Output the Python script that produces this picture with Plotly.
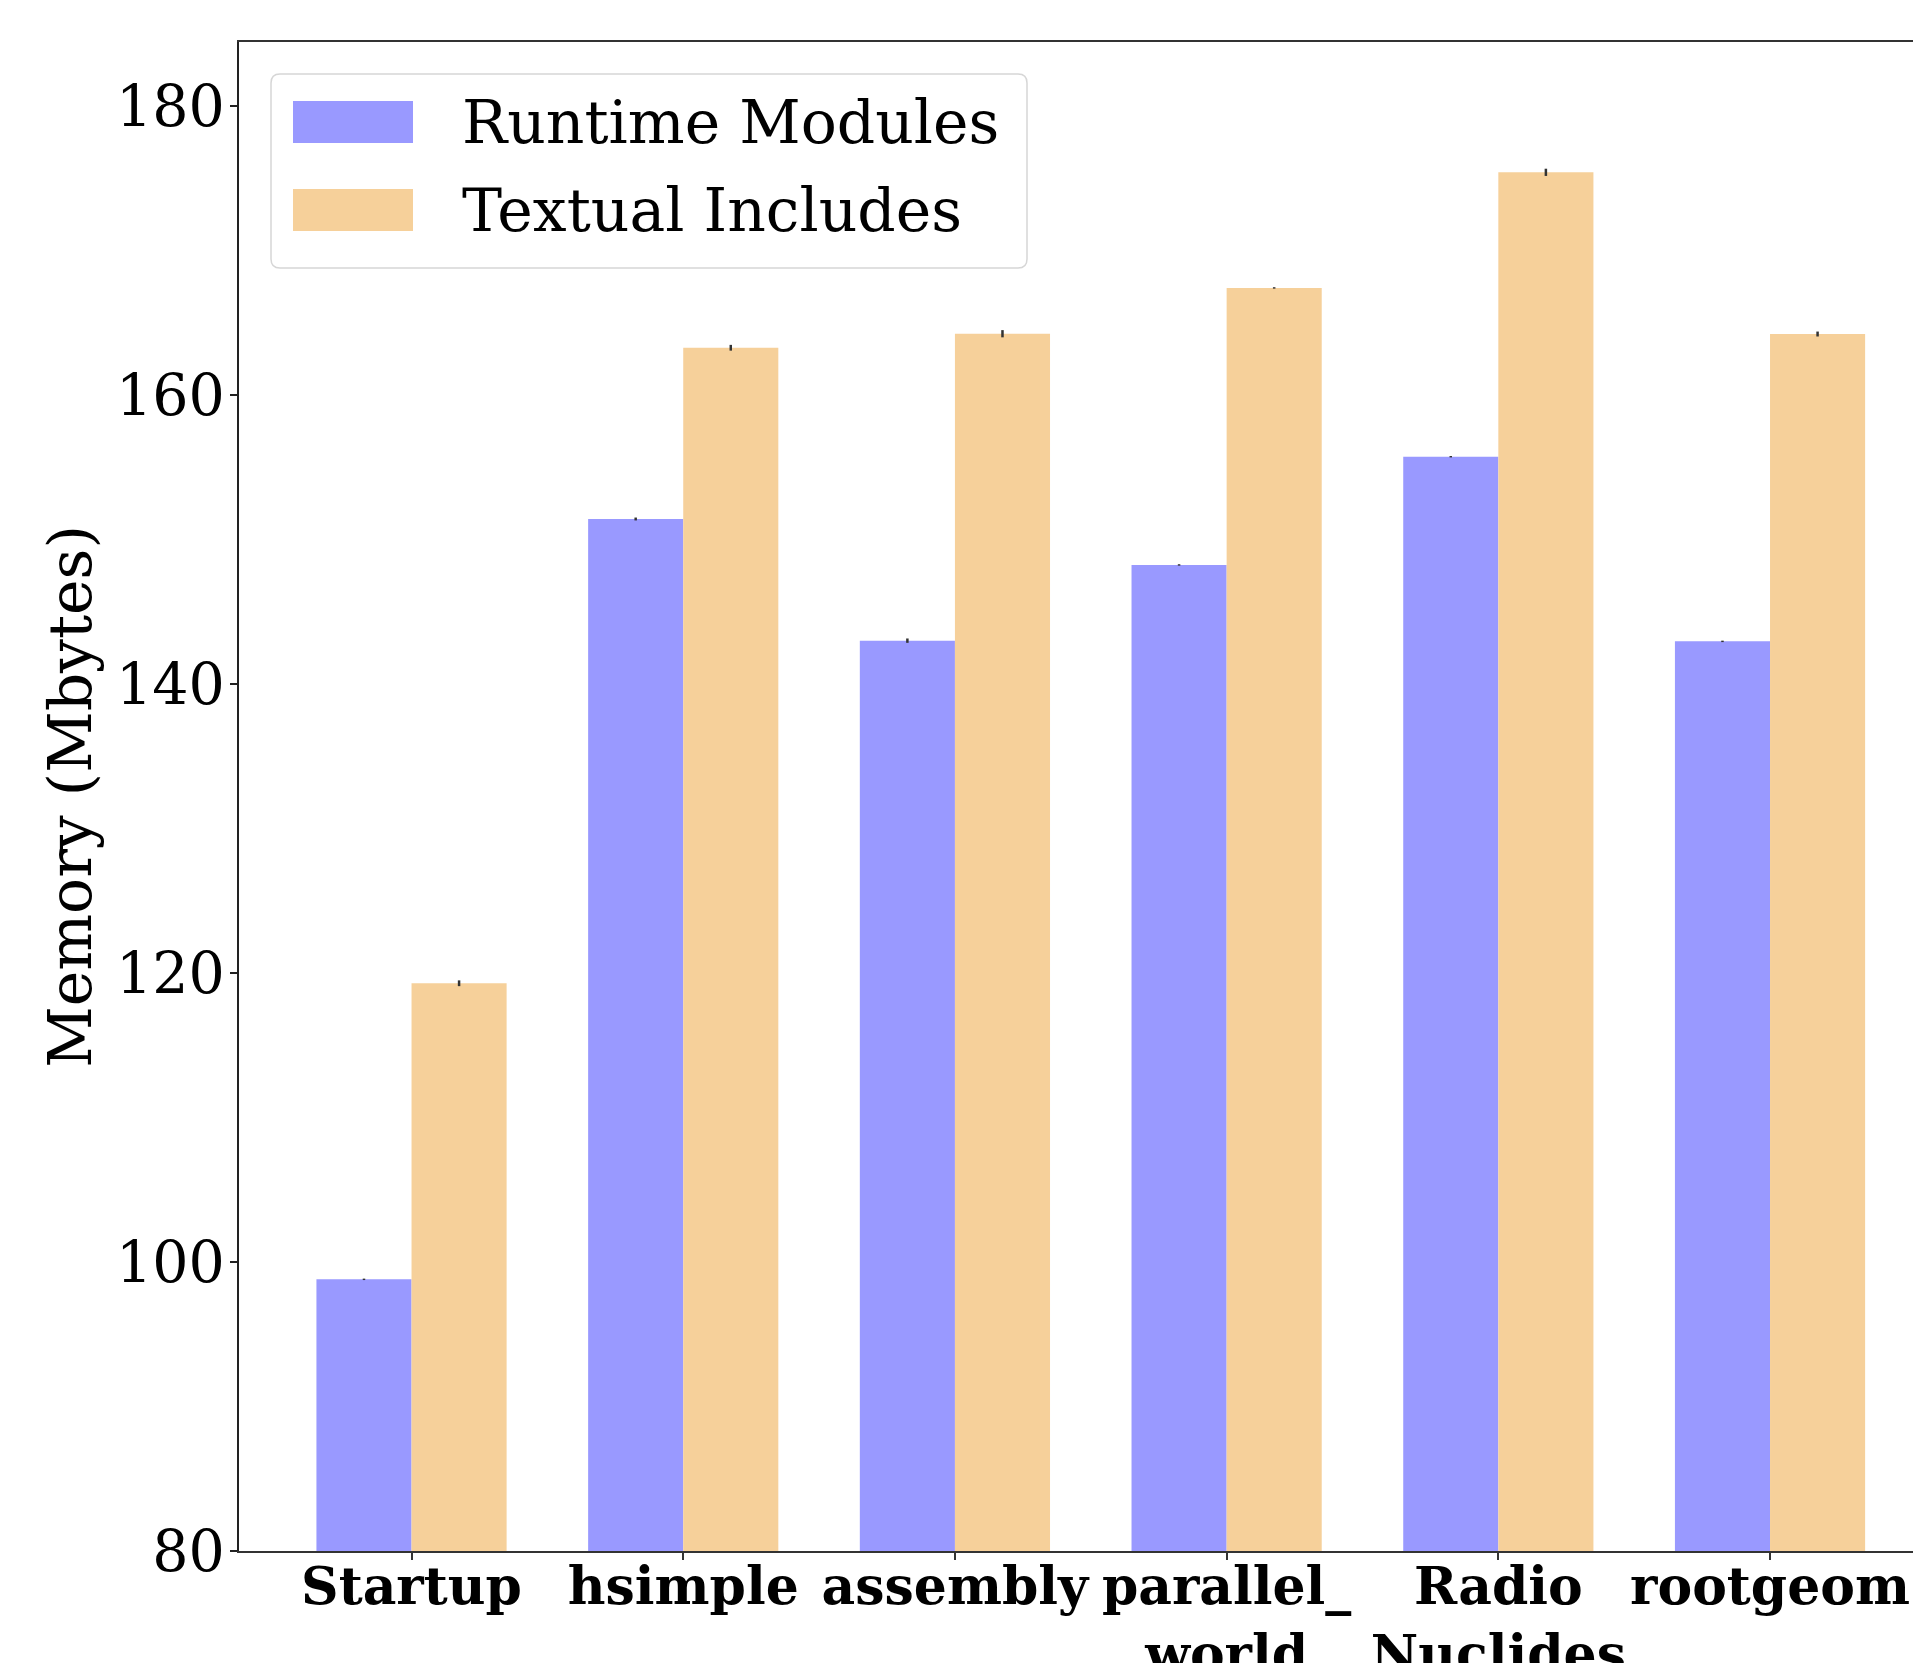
import plotly.graph_objects as go

# ---- data ----
categories = ["Startup", "hsimple", "assembly", "parallel_world", "RadioNuclides", "rootgeom"]
tick_labels = ["Startup", "hsimple", "assembly", "parallel_<br>world", "Radio<br>Nuclides", "rootgeom"]
runtime_modules = [98.80, 151.42, 143.00, 148.24, 155.73, 142.95]
runtime_err = [0.05, 0.10, 0.15, 0.05, 0.05, 0.05]
textual_includes = [119.29, 163.27, 164.24, 167.41, 175.41, 164.22]
textual_err = [0.20, 0.20, 0.25, 0.05, 0.25, 0.17]
series_names = ["Runtime Modules", "Textual Includes"]
y_ticks = [80, 100, 120, 140, 160, 180]

BLUE = "#9999ff"
ORANGE = "#f6d09a"
FONT = "DejaVu Serif"

OFF = 8  # page body margin
W, H = 1921 - OFF, 1663 - OFF
L, R, T = 239 - OFF, 0, 42 - OFF
B = H - (1551 - OFF)
PW, PH = W - L - R, H - T - B

fig = go.Figure()
fig.add_trace(go.Bar(
    x=categories, y=runtime_modules, name=series_names[0],
    marker=dict(color=BLUE, line=dict(width=0)),
    width=0.35, offset=-0.35,
    error_y=dict(type="data", array=runtime_err, color="#333333", thickness=2.5, width=0),
    showlegend=False,
))
fig.add_trace(go.Bar(
    x=categories, y=textual_includes, name=series_names[1],
    marker=dict(color=ORANGE, line=dict(width=0)),
    width=0.35, offset=0.0,
    error_y=dict(type="data", array=textual_err, color="#333333", thickness=2.5, width=0),
    showlegend=False,
))

# ---- manual legend (matplotlib style); pixel positions in page coordinates ----
def px_x(p):
    return (p - OFF - L) / PW

def px_y(p):
    return (H - B - (p - OFF)) / PH

shapes = []
x0, x1, y0, y1 = 271, 1027, 74, 268
r = 9
rx, ry = r / PW, r / PH
X0, X1, Y0, Y1 = px_x(x0), px_x(x1), px_y(y0), px_y(y1)
path = (f"M{X0+rx},{Y0} L{X1-rx},{Y0} Q{X1},{Y0} {X1},{Y0-ry} "
        f"L{X1},{Y1+ry} Q{X1},{Y1} {X1-rx},{Y1} L{X0+rx},{Y1} "
        f"Q{X0},{Y1} {X0},{Y1+ry} L{X0},{Y0-ry} Q{X0},{Y0} {X0+rx},{Y0} Z")
shapes.append(dict(type="path", xref="paper", yref="paper", path=path,
                   line=dict(color="#d6d6d6", width=1.5), fillcolor="rgba(255,255,255,0.8)", layer="above"))
annotations = []
for i, (nm, col) in enumerate(zip(series_names, [BLUE, ORANGE])):
    top = 101 + i * 88
    shapes.append(dict(type="rect", xref="paper", yref="paper",
                       x0=px_x(293), x1=px_x(413), y0=px_y(top), y1=px_y(top + 42),
                       fillcolor=col, line=dict(width=0), layer="above"))
    annotations.append(dict(xref="paper", yref="paper", x=px_x(460), y=px_y(top + 21),
                            text=nm, showarrow=False, xanchor="left", yanchor="middle",
                            font=dict(family=FONT, size=60, color="black")))

fig.update_layout(
    width=W, height=H,
    margin=dict(l=L, r=R, t=T, b=B, autoexpand=False),
    paper_bgcolor="white", plot_bgcolor="white",
    barmode="overlay",
    font=dict(family=FONT, color="black"),
    shapes=shapes, annotations=annotations,
    showlegend=False,
)
fig.update_xaxes(
    range=[-0.635, -0.635 + PW / 271.7],
    tickvals=categories, ticktext=tick_labels,
    tickfont=dict(family=FONT, size=52, weight="bold", color="black"),
    ticks="outside", ticklen=7, tickwidth=2, tickcolor="#333333",
    ticklabelstandoff=-18,
    showline=True, linecolor="#333333", linewidth=2, mirror=True,
    showgrid=False, zeroline=False,
)
fig.update_yaxes(
    range=[80, 80 + PH / 14.45],
    tickvals=y_ticks,
    tickfont=dict(family=FONT, size=57, color="black"),
    ticks="outside", ticklen=7, tickwidth=2, tickcolor="#222222",
    ticklabelstandoff=-6,
    showline=True, linecolor="#222222", linewidth=1.5, mirror=False,
    showgrid=False, zeroline=False,
    title=dict(text="Memory (Mbytes)", font=dict(family=FONT, size=60, color="black"), standoff=5),
)

fig.write_html("out.html")
